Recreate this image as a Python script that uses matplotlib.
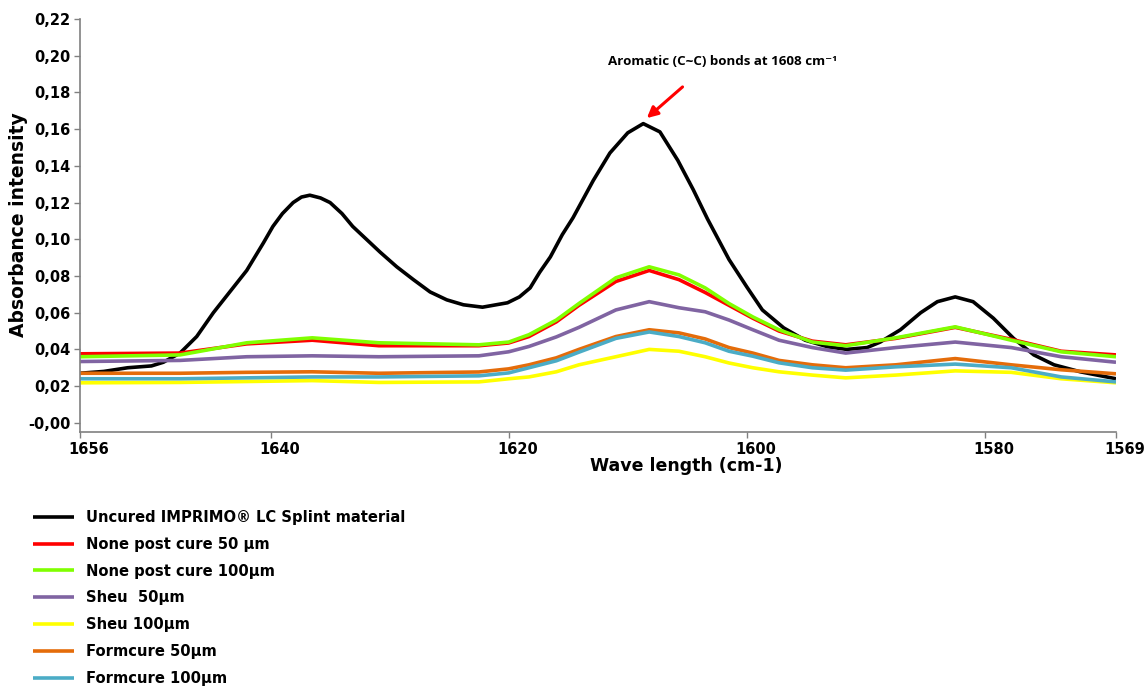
import matplotlib
matplotlib.use("Agg")
import matplotlib.pyplot as plt
import matplotlib.transforms as mtransforms

# ---------------- data ----------------
uncured_x = [1656, 1654, 1652, 1650, 1649.0, 1647.6, 1646.2, 1644.8, 1643.4, 1642.0,
             1640.6, 1639.8, 1639.0, 1638.1, 1637.4, 1636.7, 1635.8, 1635.0, 1634.0,
             1633.1, 1631.9, 1630.8, 1629.4, 1628.0, 1626.6, 1625.2, 1623.8, 1622.2,
             1620.1, 1619.1, 1618.2, 1617.4, 1616.5, 1615.5, 1614.6, 1612.9, 1611.5,
             1610.0, 1608.7, 1607.3, 1605.8, 1604.5, 1603.3, 1601.5, 1600.0,
             1598.7, 1596.9, 1595.1, 1593.2, 1591.6, 1589.9, 1588.8, 1587.1, 1585.4,
             1584.0, 1582.5, 1581.0, 1579.3, 1577.6, 1575.9, 1574.2, 1572.0, 1569]
uncured_y = [0.027, 0.028, 0.030, 0.031, 0.033, 0.038, 0.047, 0.060, 0.0715, 0.083,
             0.098, 0.107, 0.114, 0.120, 0.123, 0.124, 0.1225, 0.120, 0.114,
             0.107, 0.0997, 0.093, 0.085, 0.078, 0.0713, 0.067, 0.0643, 0.063,
             0.0654, 0.0686, 0.0735, 0.082, 0.0904, 0.1025, 0.1117, 0.132, 0.147,
             0.158, 0.163, 0.1585, 0.143, 0.127, 0.111, 0.089, 0.074,
             0.0615, 0.0517, 0.045, 0.0414, 0.040, 0.041, 0.044, 0.0507, 0.060,
             0.066, 0.0686, 0.066, 0.057, 0.046, 0.037, 0.0316, 0.0278, 0.024]

wave = [1656, 1647.6, 1642, 1636.5, 1630.9, 1622.5, 1620, 1618.3, 1616, 1614.1, 1611,
        1608.2, 1605.7, 1603.5, 1601.5, 1599.5, 1597.3, 1594.5, 1591.7, 1587.5, 1582.5,
        1577.8, 1573.6, 1569]
none_50 = [0.0376, 0.038, 0.043, 0.045, 0.042, 0.042, 0.0435, 0.047, 0.055, 0.064, 0.077,
           0.083, 0.078, 0.071, 0.064, 0.057, 0.050, 0.0445, 0.0425, 0.046, 0.052,
           0.0455, 0.039, 0.037]
none_100 = [0.036, 0.037, 0.0436, 0.0463, 0.0436, 0.0425, 0.044, 0.048, 0.056, 0.065, 0.079,
            0.085, 0.0806, 0.0735, 0.065, 0.0577, 0.0507, 0.044, 0.042, 0.0463, 0.0523,
            0.045, 0.0387, 0.036]
sheu_50 = [0.0334, 0.034, 0.036, 0.0365, 0.036, 0.0365, 0.0387, 0.0416, 0.0468, 0.052,
           0.0615, 0.066, 0.0627, 0.0605, 0.056, 0.0507, 0.045, 0.041, 0.038, 0.041,
           0.044, 0.041, 0.036, 0.033]
sheu_100 = [0.0218, 0.022, 0.0225, 0.023, 0.022, 0.0223, 0.024, 0.025, 0.0278, 0.0316,
            0.036, 0.040, 0.039, 0.036, 0.0326, 0.030, 0.0278, 0.026, 0.0245, 0.026,
            0.0283, 0.0275, 0.024, 0.0218]
form_50 = [0.027, 0.027, 0.0275, 0.0278, 0.027, 0.0277, 0.0294, 0.0316, 0.0354, 0.040,
           0.047, 0.0507, 0.049, 0.0457, 0.041, 0.038, 0.034, 0.0316, 0.030, 0.0316,
           0.035, 0.0316, 0.0289, 0.0267]
form_100 = [0.024, 0.024, 0.0245, 0.025, 0.025, 0.0256, 0.0272, 0.030, 0.0338, 0.0385,
            0.046, 0.0495, 0.047, 0.0436, 0.039, 0.0363, 0.0327, 0.030, 0.0287, 0.0305,
            0.032, 0.030, 0.025, 0.0223]

labels = ["Uncured IMPRIMO\u00ae LC Splint material", "None post cure 50 \u00b5m",
          "None post cure 100\u00b5m", "Sheu  50\u00b5m", "Sheu 100\u00b5m",
          "Formcure 50\u00b5m", "Formcure 100\u00b5m"]
colors = ["#000000", "#FF0000", "#80FF00", "#8064A2", "#FFFF00", "#E46C0A", "#4BACC6"]

x_ticks = [1656, 1640, 1620, 1600, 1580, 1569]
y_ticks = [0.00, 0.02, 0.04, 0.06, 0.08, 0.10, 0.12, 0.14, 0.16, 0.18, 0.20, 0.22]
y_tick_labels = ["-0,00", "0,02", "0,04", "0,06", "0,08", "0,10", "0,12", "0,14",
                 "0,16", "0,18", "0,20", "0,22"]

# ---------------- figure ----------------
plt.rcParams['font.family'] = ['DejaVu Sans']
W, H = 1147, 691
fig = plt.figure(figsize=(W / 100, H / 100), dpi=100)
ax = fig.add_axes([80 / W, 1 - 432 / H, (1116 - 80) / W, (432 - 19) / H])

series = [(uncured_x, uncured_y)] + [(wave, s) for s in
                                     [none_50, none_100, sheu_50, sheu_100, form_50, form_100]]
lines = []
for (xs, ys), c, lab in zip(series, colors, labels):
    ln, = ax.plot(xs, ys, color=c, lw=2.6, solid_capstyle='butt',
                  solid_joinstyle='round', label=lab)
    lines.append(ln)

ax.set_xlim(1656, 1569)
ax.set_ylim(-0.005, 0.22)
ax.set_xticks(x_ticks)
ax.set_xticklabels([str(t) for t in x_ticks])
ax.set_yticks(y_ticks)
ax.set_yticklabels(y_tick_labels)
for s in ['top', 'right']:
    ax.spines[s].set_visible(False)
for s in ['left', 'bottom']:
    ax.spines[s].set_color('#808080')
    ax.spines[s].set_linewidth(1.2)
ax.tick_params(axis='both', direction='out', length=4, width=1, color='#808080',
               labelsize=10.5, pad=3)
for lbl in ax.get_xticklabels() + ax.get_yticklabels():
    lbl.set_fontweight('bold')
offset = mtransforms.ScaledTranslation(9 / 100, 0, fig.dpi_scale_trans)
for lbl in ax.get_xticklabels():
    lbl.set_transform(lbl.get_transform() + offset)

fig.text(686 / W, 1 - 466 / H, "Wave length (cm-1)", ha='center', va='center',
         fontsize=12.5, fontweight='bold')
fig.text(19 / W, 1 - 225 / H, "Absorbance intensity", ha='center', va='center',
         rotation=90, fontsize=13.5, fontweight='bold')

ax.annotate("", xy=(1608.4, 0.166), xytext=(1605.4, 0.183),
            arrowprops=dict(arrowstyle='-|>', color='#FF0000', lw=2.2,
                            mutation_scale=16, shrinkA=0, shrinkB=0))
ax.text(1602.0, 0.1966, "Aromatic (C~C) bonds at 1608 cm\u207b\u00b9", ha='center',
        va='center', fontsize=9.6, fontweight='bold', family=['Open Sans', 'DejaVu Sans'])

fig.legend(handles=lines, labels=labels, loc='upper left',
           bbox_to_anchor=(33 / W, 1 - 510 / H), frameon=False,
           prop={'weight': 'bold', 'size': 10.6}, handlelength=2.8, handletextpad=0.8,
           labelspacing=0.8, borderpad=0, borderaxespad=0)

fig.savefig("out.png", dpi=100)
